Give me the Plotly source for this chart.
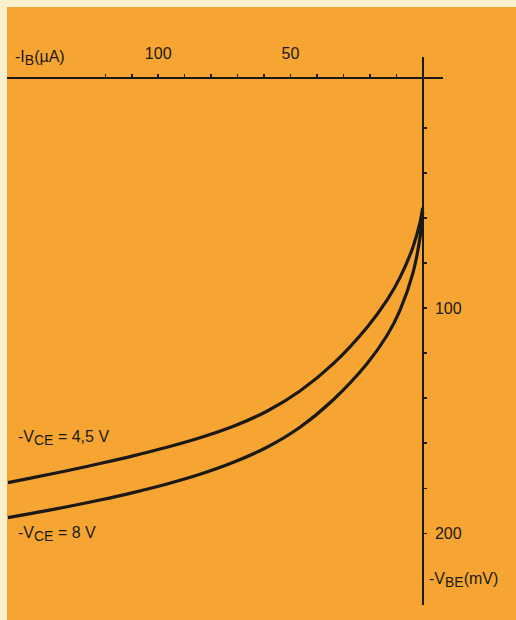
import plotly.graph_objects as go

# Data
ib_ua = [156.8, 147.3, 134.5, 122.0, 109.5, 96.7, 84.2, 71.8, 58.9, 46.4, 33.9, 21.0, 13.5, 8.6, 3.7, 1.0, 0.0]
vbe_45 = [177.5, 175.3, 172.2, 169.0, 165.6, 161.8, 157.6, 152.6, 145.8, 136.8, 124.8, 108.5, 96.5, 86.5, 73.0, 62.0, 55.5]
vbe_8 = [193.0, 191.0, 188.2, 185.2, 181.9, 178.1, 173.8, 168.6, 161.8, 152.9, 140.8, 124.6, 112.2, 101.0, 84.5, 68.5, 57.0]

x_tickvals = [10, 20, 30, 40, 50, 60, 70, 80, 90, 100, 110, 120]
x_ticktext = ["", "", "", "", "50", "", "", "", "", "100", "", ""]
y_tickvals = [20, 40, 60, 80, 100, 120, 140, 160, 180, 200]
y_ticktext = ["", "", "", "", "100", "", "", "", "", "200"]

INK = "#1b1915"
ORANGE = "#F6A532"
PALE = "#FBF0CC"
FONT = "Liberation Sans"

fig = go.Figure()
for vals in (vbe_45, vbe_8):
    fig.add_trace(go.Scatter(x=ib_ua, y=vals, mode="lines",
                             line=dict(color=INK, width=3.2, shape="spline", smoothing=1.0),
                             hoverinfo="skip", showlegend=False))

W, H = 516, 620


def sub(t):
    return "<sub><span style='font-size:14px'>" + t + "</span></sub>"


fig.update_layout(
    width=W, height=H,
    margin=dict(l=0, r=0, t=0, b=0),
    paper_bgcolor=PALE,
    plot_bgcolor=ORANGE,
    font=dict(family=FONT, color=INK, size=16),
    shapes=[dict(type="rect", xref="paper", yref="paper", x0=7 / W, x1=1, y0=0, y1=1 - 7 / H,
                 fillcolor=ORANGE, line=dict(width=0), layer="below")],
    xaxis=dict(
        domain=[7 / W, 443 / W], range=[157.16, -7.67],
        side="top", anchor="free", position=1 - 78 / H,
        showline=True, linecolor=INK, linewidth=2,
        ticks="outside", ticklen=3, tickwidth=1.5, tickcolor=INK,
        tickvals=x_tickvals, ticktext=x_ticktext, ticklabelstandoff=9,
        tickfont=dict(family=FONT, size=16, color=INK),
        showgrid=False, zeroline=False,
    ),
    yaxis=dict(
        domain=[1 - 605 / H, 1 - 57 / H], range=[231.8, -11.41],
        side="right", anchor="free", position=422.7 / W,
        showline=True, linecolor=INK, linewidth=2,
        ticks="outside", ticklen=3, tickwidth=1.5, tickcolor=INK,
        tickvals=y_tickvals, ticktext=y_ticktext, ticklabelstandoff=5,
        tickfont=dict(family=FONT, size=16, color=INK),
        showgrid=False, zeroline=False,
    ),
    annotations=[
        dict(text="-I" + sub("B") + "(µA)", xref="paper", yref="paper", x=13 / W, y=1 - 58 / H,
             xanchor="left", yanchor="middle", showarrow=False, font=dict(size=16)),
        dict(text="-V" + sub("BE") + "(mV)", xref="paper", yref="paper", x=427 / W, y=1 - 580 / H,
             xanchor="left", yanchor="middle", showarrow=False, font=dict(size=16)),
        dict(text="-V" + sub("CE") + " = 4,5 V", xref="paper", yref="paper", x=16 / W, y=1 - 438 / H,
             xanchor="left", yanchor="middle", showarrow=False, font=dict(size=16)),
        dict(text="-V" + sub("CE") + " = 8 V", xref="paper", yref="paper", x=16 / W, y=1 - 534 / H,
             xanchor="left", yanchor="middle", showarrow=False, font=dict(size=16)),
    ],
)

fig.write_html("out.html",
               config={"displayModeBar": False, "staticPlot": True},
               post_script="document.body.style.margin='0';document.body.style.padding='0';"
                           "document.documentElement.style.overflow='hidden';")
